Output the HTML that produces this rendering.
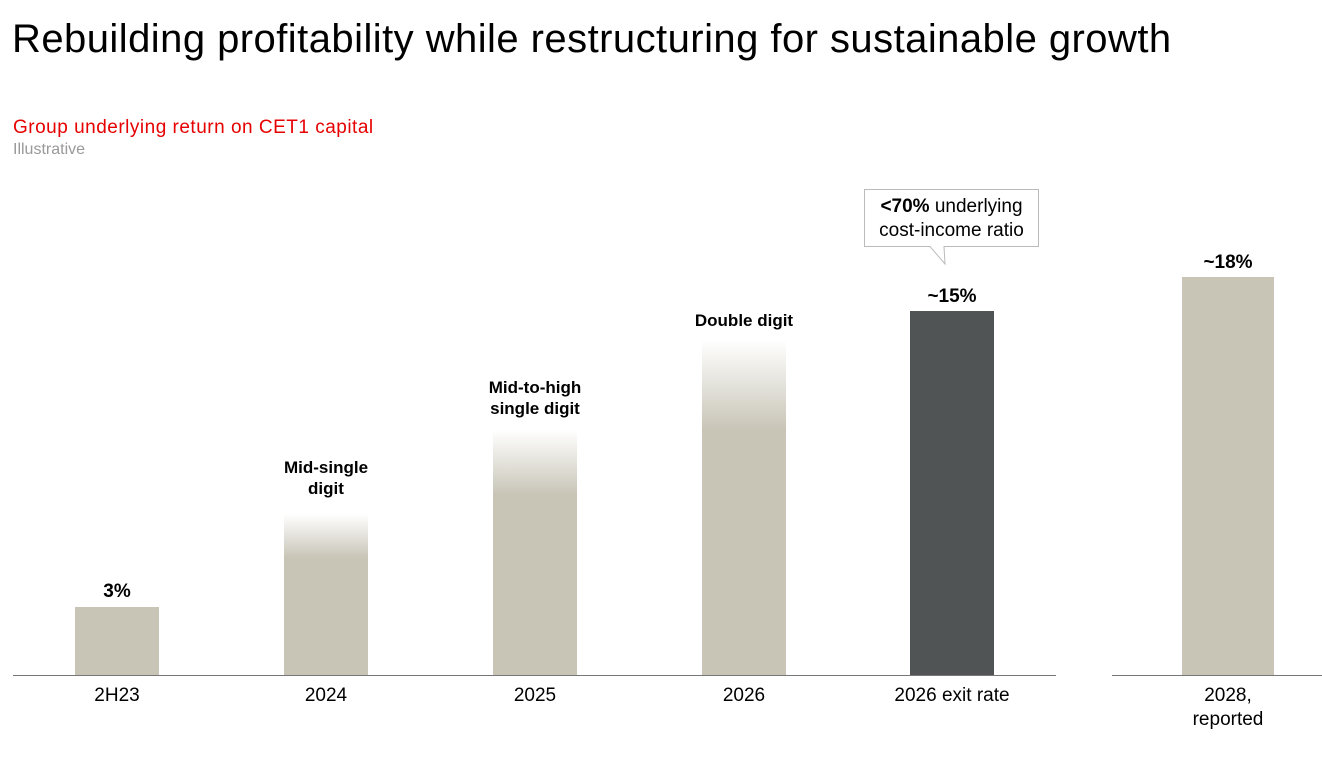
<!DOCTYPE html>
<html><head><meta charset="utf-8"><style>
body{margin:0;width:1322px;height:763px;background:#fff;position:relative;overflow:hidden;font-family:"Liberation Sans",sans-serif;color:#000}
.a{position:absolute}
.bar{position:absolute;background:#c8c5b7}
.lbl{position:absolute;text-align:center;font-weight:bold;font-size:17px;line-height:21px}
.x{position:absolute;text-align:center;font-size:19px;line-height:24px;top:684px}
</style></head><body>
<div class="a" style="left:12px;top:14px;font-size:40px;line-height:50px;letter-spacing:0.45px">Rebuilding profitability while restructuring for sustainable growth</div>
<div class="a" style="left:13px;top:117px;font-size:19px;color:#e60000;letter-spacing:0.5px">Group underlying return on CET1 capital</div>
<div class="a" style="left:13px;top:141px;font-size:16px;color:#999">Illustrative</div>

<div class="bar" style="left:75px;top:607px;width:84px;height:68px"></div>
<div class="bar" style="left:284px;top:514px;width:84px;height:161px;background:linear-gradient(#fff 0px,#c8c5b7 44px)"></div>
<div class="bar" style="left:493px;top:430px;width:84px;height:245px;background:linear-gradient(#fff 0px,#c8c5b7 65px)"></div>
<div class="bar" style="left:702px;top:340px;width:84px;height:335px;background:linear-gradient(#fff 0px,#c8c5b7 90px)"></div>
<div class="bar" style="left:910px;top:311px;width:84px;height:364px;background:#505455"></div>
<div class="bar" style="left:1182px;top:277px;width:92px;height:398px"></div>

<div class="a" style="left:13px;top:675px;width:1043px;height:1px;background:#777"></div>
<div class="a" style="left:1112px;top:675px;width:210px;height:1px;background:#777"></div>

<div class="lbl" style="left:67px;top:581px;width:100px;font-size:19px">3%</div>
<div class="lbl" style="left:256px;top:457px;width:140px">Mid-single<br>digit</div>
<div class="lbl" style="left:465px;top:377px;width:140px">Mid-to-high<br>single digit</div>
<div class="lbl" style="left:664px;top:310px;width:160px">Double digit</div>
<div class="lbl" style="left:902px;top:286px;width:100px;font-size:19px">~15%</div>
<div class="lbl" style="left:1178px;top:252px;width:100px;font-size:19px">~18%</div>

<svg class="a" style="left:0;top:0" width="1322" height="763">
<path d="M864.5 189.5 H1038.5 V246.5 H944 L945 264 L930 246.5 H864.5 Z" fill="#fff" stroke="#bbb" stroke-width="1"/>
</svg>
<div class="a" style="left:864px;top:195px;width:175px;text-align:center;font-size:19px;line-height:24px"><b>&lt;70%</b> underlying<br>cost-income ratio</div>

<div class="x" style="left:67px;width:100px">2H23</div>
<div class="x" style="left:276px;width:100px">2024</div>
<div class="x" style="left:485px;width:100px">2025</div>
<div class="x" style="left:694px;width:100px">2026</div>
<div class="x" style="left:872px;width:160px">2026 exit rate</div>
<div class="x" style="left:1168px;width:120px">2028,<br>reported</div>
</body></html>
